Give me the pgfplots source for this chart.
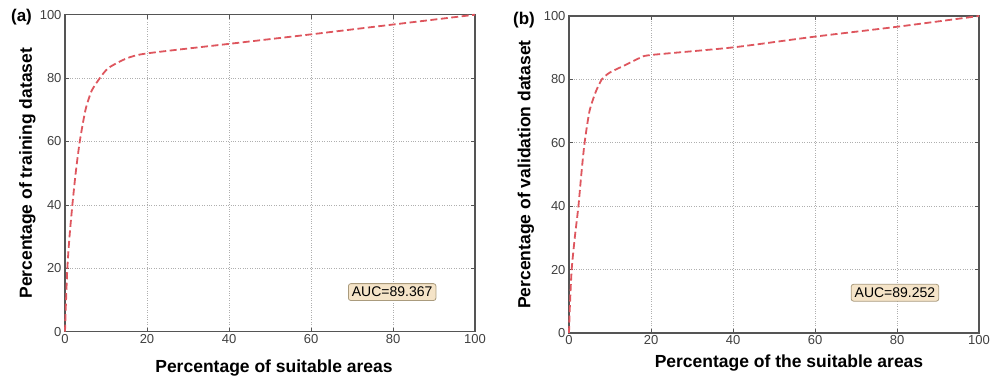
\documentclass[border=0pt]{standalone}
\usepackage{pgfplots}
\pgfplotsset{compat=1.18}
\usepackage{fontspec}
\setmainfont{Liberation Sans}
\setsansfont{Liberation Sans}
\definecolor{roc}{RGB}{222,86,94}
\definecolor{frame}{RGB}{85,85,85}
\definecolor{gridc}{RGB}{175,175,175}
\definecolor{boxfill}{RGB}{245,228,200}
\definecolor{boxdraw}{RGB}{170,155,125}
\begin{document}
\begin{tikzpicture}[x=1pt,y=1pt]
\path[use as bounding box] (0,0) rectangle (998,376);
\pgfplotsset{myax/.style={
  scale only axis, width=410pt, height=317pt,
  xmin=0, xmax=100, ymin=0, ymax=100,
  xtick={0,20,...,100}, ytick={0,20,...,100},
  axis line style={draw=frame, line width=1.3pt},
  tick style={draw=frame, line width=0.8pt},
  tick align=inside, major tick length=4pt,
  grid=major, grid style={dotted, draw=gridc, line width=0.7pt},
  /pgf/number format/assume math mode=true,
  tick label style={font=\fontsize{13}{15}\selectfont, text=black!75},
  xticklabel style={yshift=1pt},
  label style={font=\bfseries\fontsize{17.5}{19}\selectfont},
  clip=false,
}}
\begin{axis}[myax, at={(65pt,44.3pt)}, anchor=south west,
  xlabel={Percentage of suitable areas},
  ylabel={Percentage of training dataset},
  xlabel style={at={(axis description cs:0.5,0)}, anchor=center, yshift=-36pt, xshift=4pt},
  ylabel style={at={(axis description cs:-0.092,0.5)}, anchor=center},
]
\addplot[roc, line width=1.8pt, dash pattern=on 7pt off 3.5pt, smooth, tension=0.4] coordinates {
(0,0) (0.2,8) (0.57,20) (1.1,30) (1.8,40) (2.6,50) (3.6,60) (5,70) (6.5,76) (8.5,80) (10.6,83.2) (15,86.2) (20,87.8) (40,90.8) (60,93.8) (80,96.9) (100,100)};
\node[draw=boxdraw, fill=boxfill, rounded corners=2.5pt, inner sep=3.5pt, line width=0.8pt, font=\fontsize{14}{16}\selectfont] at (axis cs:79.8,12.5) {AUC=89.367};
\end{axis}
\begin{axis}[myax, at={(569pt,43pt)}, anchor=south west,
  xlabel={Percentage of the suitable areas},
  ylabel={Percentage of validation dataset},
  xlabel style={at={(axis description cs:0.5,0)}, anchor=center, yshift=-30pt, xshift=15pt},
  ylabel style={at={(axis description cs:-0.105,0.5)}, anchor=center},
]
\addplot[roc, line width=1.8pt, dash pattern=on 7pt off 3.5pt, smooth, tension=0.4] coordinates {
(0,0) (0.2,8) (0.65,20) (1.4,30) (2.3,40) (3.0,50) (3.8,60) (5,70) (6.5,76) (8,80) (10,82.2) (14,84.7) (17.3,86.8) (20,87.7) (40,90.1) (60,93.5) (80,96.6) (100,100)};
\node[draw=boxdraw, fill=boxfill, rounded corners=2.5pt, inner sep=3.5pt, line width=0.8pt, font=\fontsize{14}{16}\selectfont] at (axis cs:79.5,12.7) {AUC=89.252};
\end{axis}
\node[font=\bfseries\fontsize{17}{19}\selectfont] at (21.5,359) {(a)};
\node[font=\bfseries\fontsize{17}{19}\selectfont] at (524,356) {(b)};
\end{tikzpicture}
\end{document}
